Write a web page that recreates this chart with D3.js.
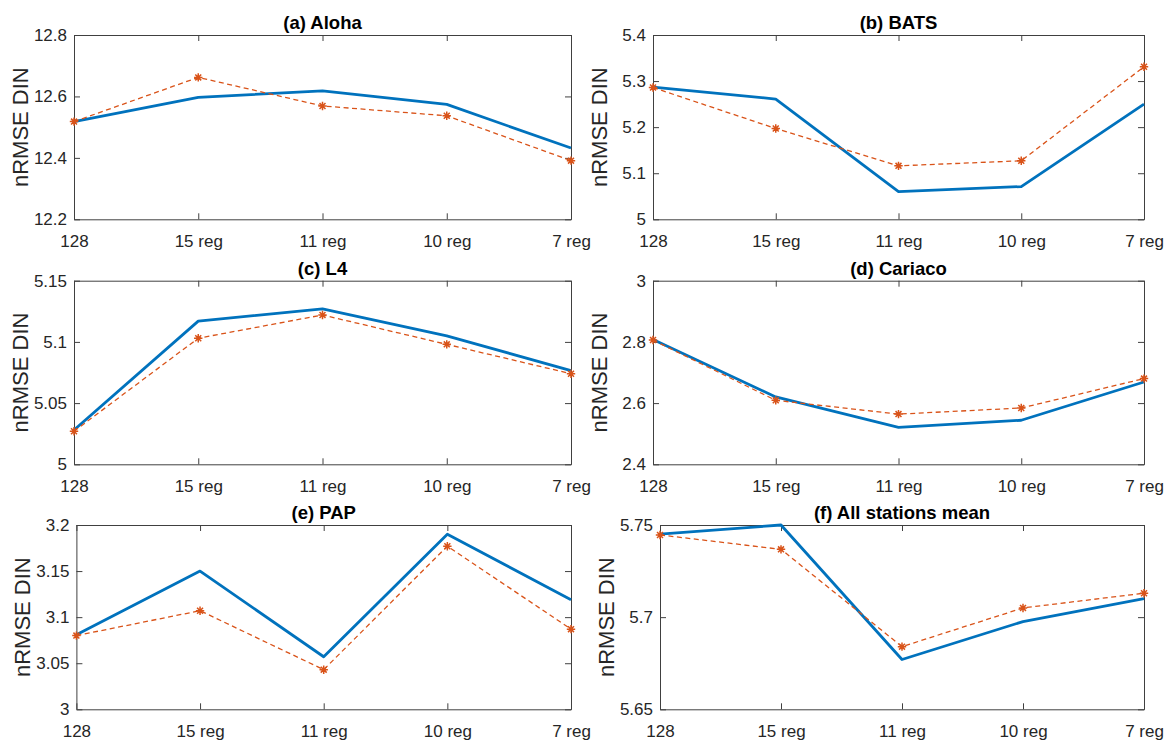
<!DOCTYPE html>
<html>
<head>
<meta charset="utf-8">
<script src="https://cdn.jsdelivr.net/npm/d3@7"></script>
<style>
  body { margin: 0; background: #fff; }
  svg text { font-family: "Liberation Sans", Arial, Helvetica, sans-serif; }
</style>
</head>
<body>
<svg id="chart" width="1172" height="744"></svg>
<script>
// Region configurations along the x axis
const categories = ["128", "15 reg", "11 reg", "10 reg", "7 reg"];

// Panel titles
const titles = ["(a) Aloha", "(b) BATS", "(c) L4", "(d) Cariaco", "(e) PAP", "(f) All stations mean"];

// nRMSE of DIN per station: solid series and dashed (starred) series
const alohaSolid    = [12.518, 12.597, 12.618, 12.574, 12.432];
const alohaDashed   = [12.518, 12.662, 12.569, 12.537, 12.391];
const batsSolid     = [5.287, 5.261, 5.060, 5.071, 5.250];
const batsDashed    = [5.286, 5.197, 5.116, 5.127, 5.331];
const l4Solid       = [5.028, 5.117, 5.127, 5.105, 5.0765];
const l4Dashed      = [5.027, 5.103, 5.122, 5.098, 5.074];
const cariacoSolid  = [2.808, 2.620, 2.521, 2.544, 2.669];
const cariacoDashed = [2.806, 2.609, 2.564, 2.584, 2.680];
const papSolid      = [3.081, 3.150, 3.057, 3.190, 3.119];
const papDashed     = [3.080, 3.107, 3.043, 3.177, 3.087];
const allSolid      = [5.745, 5.750, 5.677, 5.6976, 5.710];
const allDashed     = [5.7446, 5.7368, 5.684, 5.705, 5.713];

// y tick values per panel
const alohaTicks   = [12.2, 12.4, 12.6, 12.8];
const batsTicks    = [5, 5.1, 5.2, 5.3, 5.4];
const l4Ticks      = [5, 5.05, 5.1, 5.15];
const cariacoTicks = [2.4, 2.6, 2.8, 3];
const papTicks     = [3, 3.05, 3.1, 3.15, 3.2];
const allTicks     = [5.65, 5.7, 5.75];

const panels = [
  { title: titles[0], solid: alohaSolid,   dashed: alohaDashed,   ticks: alohaTicks,   box: [74, 35, 571, 219.3] },
  { title: titles[1], solid: batsSolid,    dashed: batsDashed,    ticks: batsTicks,    box: [653, 35, 1144, 219.3] },
  { title: titles[2], solid: l4Solid,      dashed: l4Dashed,      ticks: l4Ticks,      box: [74, 280.7, 571, 464.3] },
  { title: titles[3], solid: cariacoSolid, dashed: cariacoDashed, ticks: cariacoTicks, box: [653, 280.7, 1144, 464.3] },
  { title: titles[4], solid: papSolid,     dashed: papDashed,     ticks: papTicks,     box: [76.4, 525, 571, 709.3] },
  { title: titles[5], solid: allSolid,     dashed: allDashed,     ticks: allTicks,     box: [660, 525, 1144, 709.3] }
];

const BLUE = "#0072BD";
const ORANGE = "#D95319";
const AXIS = "#404040";
const TEXT = "#262626";

const svg = d3.select("#chart");

// Eight-armed star used as the marker of the dashed series
function asteriskPath(r) {
  const d = r * Math.SQRT1_2;
  return `M${-r},0L${r},0M0,${-r}L0,${r}M${-d},${-d}L${d},${d}M${-d},${d}L${d},${-d}`;
}

panels.forEach(p => {
  const [x0, y0, x1, y1] = p.box;
  const w = x1 - x0, h = y1 - y0;
  const g = svg.append("g").attr("transform", `translate(${x0},${y0})`);

  const x = d3.scalePoint().domain(categories).range([0, w]).padding(0);
  const y = d3.scaleLinear().domain(d3.extent(p.ticks)).range([h, 0]);

  const fmt = v => String(+v.toFixed(4));

  // bottom axis with labels
  const bottom = g.append("g").attr("transform", `translate(0,${h})`)
    .call(d3.axisBottom(x).tickSizeInner(-6).tickSizeOuter(0).tickPadding(16));
  // left axis with labels
  const left = g.append("g")
    .call(d3.axisLeft(y).tickValues(p.ticks).tickFormat(fmt).tickSizeInner(-6).tickSizeOuter(0).tickPadding(7));
  // top and right axes: ticks only
  const top = g.append("g")
    .call(d3.axisTop(x).tickSizeInner(-6).tickSizeOuter(0).tickFormat(""));
  const right = g.append("g").attr("transform", `translate(${w},0)`)
    .call(d3.axisRight(y).tickValues(p.ticks).tickSizeInner(-6).tickSizeOuter(0).tickFormat(""));

  [bottom, left, top, right].forEach(a => {
    a.select(".domain").attr("stroke", AXIS).attr("stroke-width", 1);
    a.selectAll(".tick line").attr("stroke", AXIS).attr("stroke-width", 1);
    a.selectAll(".tick text").attr("fill", TEXT)
      .style("font-size", "17px");
  });

  // solid series
  const line = d3.line().x((d, i) => x(categories[i])).y(d => y(d));
  g.append("path").datum(p.solid)
    .attr("fill", "none").attr("stroke", BLUE).attr("stroke-width", 2.8)
    .attr("stroke-linejoin", "round")
    .attr("d", line);

  // dashed series with asterisk markers
  g.append("path").datum(p.dashed)
    .attr("fill", "none").attr("stroke", ORANGE).attr("stroke-width", 1.3)
    .attr("stroke-dasharray", "5,3.5")
    .attr("d", line);
  g.selectAll(".mk").data(p.dashed).join("path")
    .attr("class", "mk")
    .attr("transform", (d, i) => `translate(${x(categories[i])},${y(d)})`)
    .attr("d", asteriskPath(4.2))
    .attr("fill", "none").attr("stroke", ORANGE).attr("stroke-width", 1.5);

  // title
  g.append("text")
    .attr("x", w / 2).attr("y", -6)
    .attr("text-anchor", "middle")
    .attr("fill", "#000")
    .style("font-size", "18.5px").style("font-weight", "bold")
    .text(p.title);

  // y label
  g.append("text")
    .attr("transform", `translate(${-54},${h / 2}) rotate(-90)`)
    .attr("text-anchor", "middle")
    .attr("dy", "0.35em")
    .attr("fill", TEXT)
    .style("font-size", "22px")
    .text("nRMSE DIN");
});
</script>
</body>
</html>
